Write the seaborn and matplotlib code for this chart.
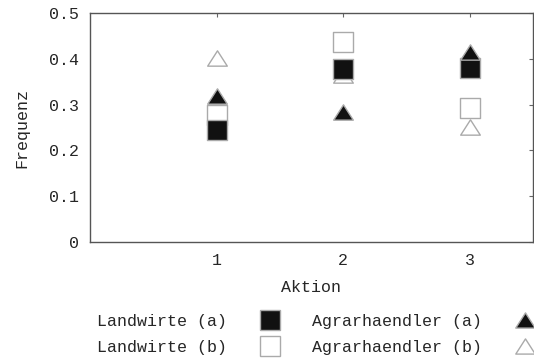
import numpy as np
import pandas as pd
import matplotlib
matplotlib.use("Agg")
import matplotlib.pyplot as plt
import seaborn as sns
from matplotlib.lines import Line2D
from matplotlib.path import Path

# data
aktion = [1, 2, 3]
landwirte_a = [0.245, 0.378, 0.380]
landwirte_b = [0.277, 0.437, 0.293]
agrar_a = [0.318, 0.283, 0.415]
agrar_b = [0.403, 0.365, 0.252]

sns.set_style("white")
plt.rcParams['font.family'] = ['Liberation Mono', 'DejaVu Sans Mono']
plt.rcParams['font.size'] = 12

# wide gnuplot-like triangle, closed path
tri = Path([(-1, -0.78), (1, -0.78), (0, 0.78), (-1, -0.78)],
           [Path.MOVETO, Path.LINETO, Path.LINETO, Path.CLOSEPOLY])
series = [
    ("Agrarhaendler (b)", agrar_b, tri, "white"),
    ("Landwirte (b)", landwirte_b, "s", "white"),
    ("Landwirte (a)", landwirte_a, "s", "#111111"),
    ("Agrarhaendler (a)", agrar_a, tri, "#111111"),
]

fig = plt.figure(figsize=(5.34, 3.58), dpi=100)
ax = fig.add_axes([0.1685, 0.3249, 0.8295, 0.6379])

for name, vals, mk, fc in series:
    df = pd.DataFrame({"Aktion": aktion, "Frequenz": vals})
    sns.scatterplot(data=df, x="Aktion", y="Frequenz", marker=mk, s=200,
                    color=fc, edgecolor="#aaaaaa", linewidth=1.0, ax=ax,
                    zorder=3)

ax.set_xlim(0, 3.5)
ax.set_ylim(0, 0.5)
ax.set_xticks(aktion)
ax.set_yticks([0, 0.1, 0.2, 0.3, 0.4, 0.5])
ax.set_yticklabels(["0", "0.1", "0.2", "0.3", "0.4", "0.5"])
ax.tick_params(direction="in", length=3, width=0.8, color="#666666",
               top=True, right=True, pad=8)
for sp in ax.spines.values():
    sp.set_color("#555555")
    sp.set_linewidth(1.0)
ax.set_xlabel("Aktion", labelpad=9)
ax.set_ylabel("Frequenz", labelpad=14)

def h(mk, fc):
    return Line2D([], [], ls="none", marker=mk, markersize=14,
                  markerfacecolor=fc, markeredgecolor="#aaaaaa", markeredgewidth=1.0)

handles = [h("s", "#111111"), h("s", "white"), h(tri, "#111111"), h(tri, "white")]
labels = ["Landwirte (a)", "Landwirte (b)", "Agrarhaendler (a)", "Agrarhaendler (b)"]
fig.legend(handles, labels, ncol=2, markerfirst=False, frameon=False,
           loc="upper left", bbox_to_anchor=(97 / 534, 1 - 314 / 358),
           borderaxespad=0, borderpad=0, handletextpad=1.6, columnspacing=1.5,
           labelspacing=0.65, handlelength=2.0)

fig.savefig("out.png", dpi=100)
